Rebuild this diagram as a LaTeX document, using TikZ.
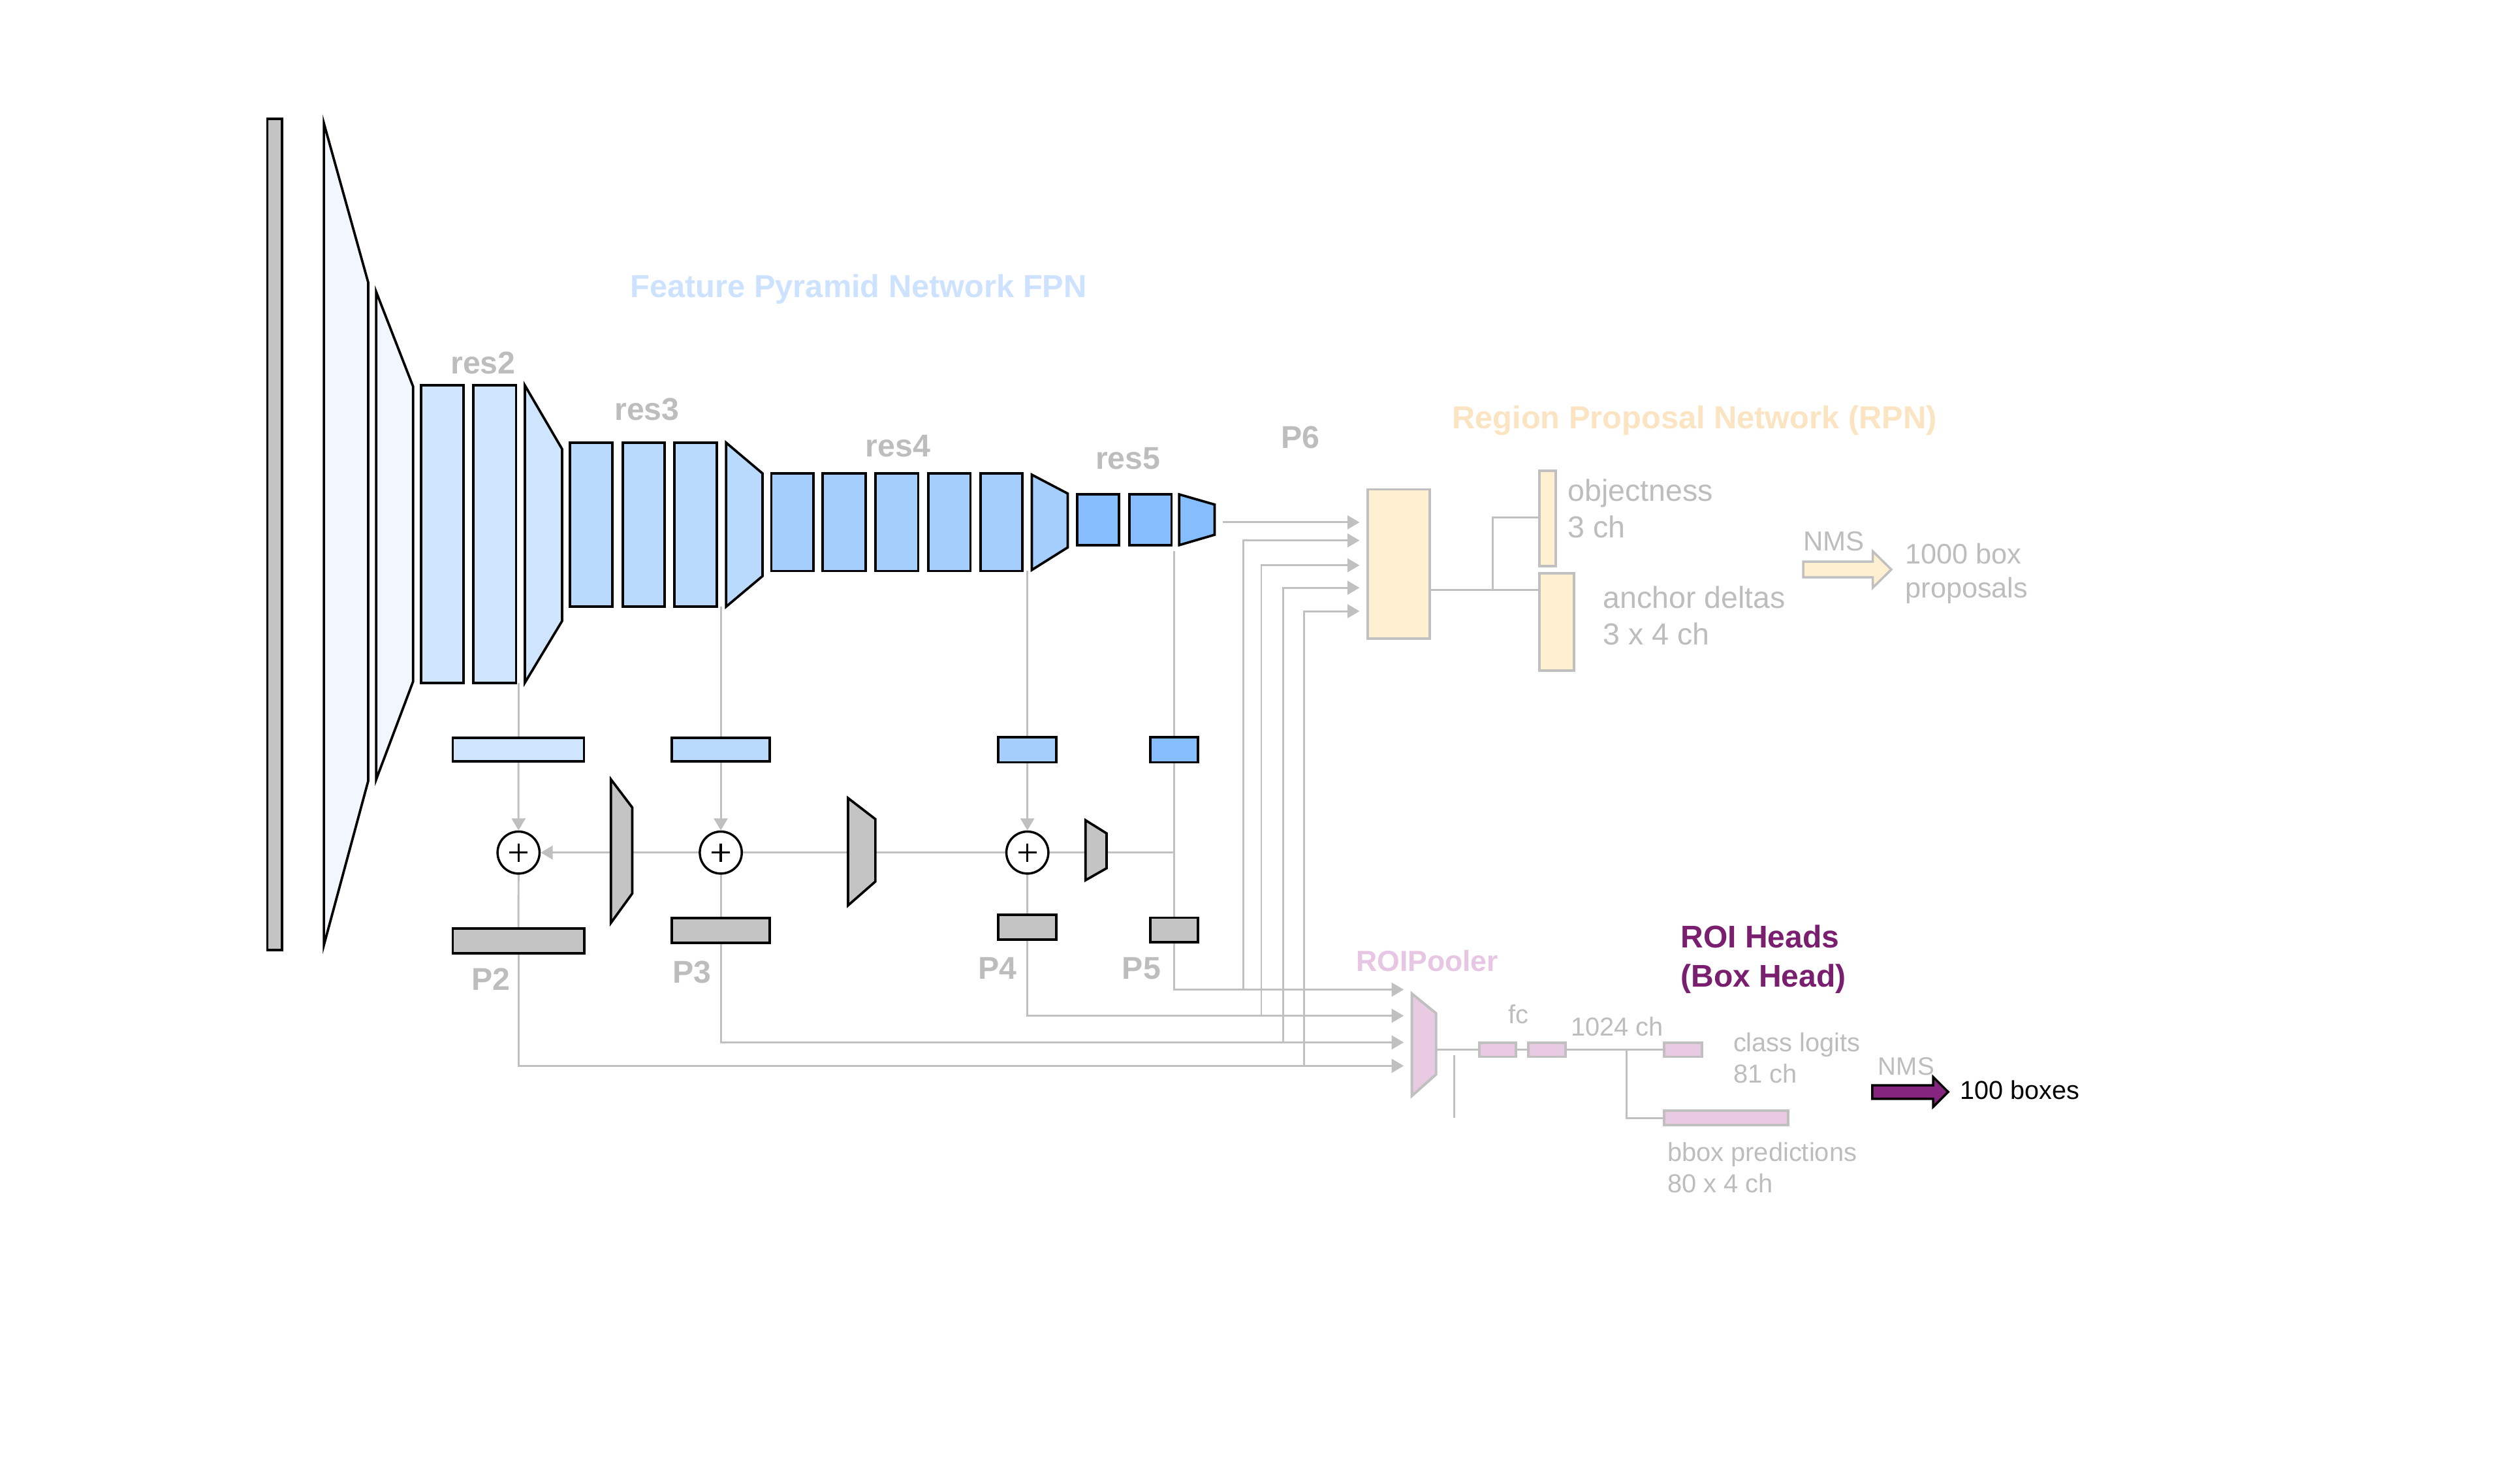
\documentclass[tikz,border=0pt]{standalone}
\usepackage{fontspec}
\setmainfont{Liberation Sans}
\usetikzlibrary{arrows.meta,backgrounds}
\definecolor{lgray}{HTML}{C0C0C0}
\definecolor{tgray}{HTML}{BDBDBD}
\definecolor{gfill}{HTML}{C4C4C4}
\definecolor{stemc}{HTML}{F2F7FF}
\definecolor{rtwo}{HTML}{CFE4FD}
\definecolor{rthree}{HTML}{B9DAFD}
\definecolor{rfour}{HTML}{A5CEFD}
\definecolor{rfive}{HTML}{86BDFC}
\definecolor{fpnc}{HTML}{CCE2FF}
\definecolor{rpnc}{HTML}{FBE4C2}
\definecolor{yfill}{HTML}{FEF0D0}
\definecolor{pfill}{HTML}{E8CBE3}
\definecolor{ptext}{HTML}{E6C6E2}
\definecolor{purp}{HTML}{7A1F6F}
\definecolor{purpf}{HTML}{862580}
\newcommand{\fsz}[1]{\fontsize{#1}{#1}\selectfont}
\newcommand{\mkbox}[6]{%
  \pgfmathsetmacro\mkcx{(#3+#5)/2}%
  \pgfmathsetmacro\mkcy{(#4+#6)/2}%
  \pgfmathsetmacro\mkw{#5-#3}%
  \pgfmathsetmacro\mkh{#6-#4}%
  \node[#1, minimum width=\mkw pt, minimum height=\mkh pt] (#2) at (\mkcx,\mkcy) {};}
\newcommand{\mktrap}[7]{\draw[#1] (#2,#3) -- (#5,#6) -- (#5,#7) -- (#2,#4) -- cycle;}
\tikzset{
  blk/.style={rectangle, draw=black, line width=1.5pt, inner sep=0pt, outer sep=0pt},
  gblk/.style={rectangle, draw=lgray, line width=1.6pt, inner sep=0pt, outer sep=0pt},
  tblk/.style={draw=black, line width=1.5pt},
  tgblk/.style={draw=lgray, line width=1.6pt},
  conn/.style={draw=lgray, line width=1.2pt},
  arr/.style={conn, -{Triangle[length=7.5pt,width=8.5pt]}},
  plusc/.style={circle, draw=black, fill=white, line width=1.4pt, minimum size=26pt, inner sep=0pt},
  pluss/.style={draw=black, line width=1.4pt},
  lbl/.style={anchor=base west, inner sep=0pt, outer sep=0pt},
  bold/.style={lbl, text=tgray, font=\fsz{19.5}\bfseries},
  reg/.style={lbl, text=tgray, font=\fsz{18.8}},
  regs/.style={lbl, text=tgray, font=\fsz{16.1}},
}
\begin{document}
\begin{tikzpicture}[x=1pt,y=-1pt]
\useasboundingbox (0,0) rectangle (1560,903.6);

% ---------------- backbone ----------------
\mkbox{blk,fill=gfill}{inp}{165.5}{73.5}{174.5}{588}
\mktrap{tblk,fill=stemc}{200.5}{76.3}{585}{227.9}{174.7}{483.5}
\mktrap{tblk,fill=stemc}{232.9}{180.7}{482.4}{255.7}{239.2}{421.9}
% res2
\mkbox{blk,fill=rtwo}{r2a}{260.8}{238.5}{287}{422.6}
\mkbox{blk,fill=rtwo}{r2b}{293}{238.5}{319.5}{422.6}
\mktrap{tblk,fill=rtwo}{324.9}{238.5}{422.6}{348}{278}{384.3}
% res3
\mkbox{blk,fill=rthree}{r3a}{352.7}{274}{379.1}{375.5}
\mkbox{blk,fill=rthree}{r3b}{385.6}{274}{411.5}{375.5}
\mkbox{blk,fill=rthree}{r3c}{417.6}{274}{443.8}{375.5}
\mktrap{tblk,fill=rthree}{449.5}{274}{375.5}{472}{293}{356.6}
% res4
\mkbox{blk,fill=rfour}{r4a}{477.5}{293}{503.5}{353.4}
\mkbox{blk,fill=rfour}{r4b}{509.3}{293}{535.8}{353.4}
\mkbox{blk,fill=rfour}{r4c}{542}{293}{568.4}{353.4}
\mkbox{blk,fill=rfour}{r4d}{574.7}{293}{600.7}{353.4}
\mkbox{blk,fill=rfour}{r4e}{607}{293}{633}{353.4}
\mktrap{tblk,fill=rfour}{638.7}{293.8}{352.8}{661}{305.5}{338.8}
% res5
\mkbox{blk,fill=rfive}{r5a}{666.8}{306}{692.6}{337.4}
\mkbox{blk,fill=rfive}{r5b}{699.2}{306}{725.2}{337.4}
\mktrap{tblk,fill=rfive}{730}{306}{337.4}{751.9}{312.3}{331}

% ---------------- FPN ----------------
\mkbox{blk,fill=rtwo}{lat1}{280.3}{456.7}{361.5}{471.3}
\mkbox{blk,fill=rthree}{lat2}{416}{456.7}{476.4}{471.3}
\mkbox{blk,fill=rfour}{lat3}{617.9}{456.4}{654}{471.8}
\mkbox{blk,fill=rfive}{lat4}{712}{456.4}{741.6}{471.8}

\node[plusc] (pl1) at (321,527.7) {};
\node[plusc] (pl2) at (446.2,527.7) {};
\node[plusc] (pl3) at (636,527.7) {};
\draw[pluss] (pl1.center) ++(-5.7,0) -- ++(11.4,0) (pl1.center) ++(0,-5.7) -- ++(0,11.4);
\draw[pluss] (pl2.center) ++(-5.7,0) -- ++(11.4,0) (pl2.center) ++(0,-5.7) -- ++(0,11.4);
\draw[pluss] (pl3.center) ++(-5.7,0) -- ++(11.4,0) (pl3.center) ++(0,-5.7) -- ++(0,11.4);

\mktrap{tblk,fill=gfill}{378.2}{482.4}{571.2}{391.4}{499.8}{553}
\mktrap{tblk,fill=gfill}{525}{494}{560.4}{541.9}{507}{545.6}
\mktrap{tblk,fill=gfill}{672}{507.7}{544.8}{685}{515.8}{537.4}

\mkbox{blk,fill=gfill}{p2}{280.3}{574.7}{361.6}{590}
\mkbox{blk,fill=gfill}{p3}{416}{568.3}{476.4}{583.7}
\mkbox{blk,fill=gfill}{p4}{617.9}{566.2}{654}{581.6}
\mkbox{blk,fill=gfill}{p5}{712}{568}{741.6}{583.2}

% ---------------- RPN ----------------
\mkbox{gblk,fill=yfill}{rpn}{846.6}{302.9}{885}{395.4}
\mkbox{gblk,fill=yfill}{obj}{953}{291.4}{963}{350.3}
\mkbox{gblk,fill=yfill}{anc}{953}{354.8}{974.5}{415}
\draw[draw=lgray, line width=1.4pt, fill=yfill]
  (1116.3,347.6) -- (1159.3,347.6) -- (1159.3,341.2) -- (1170.8,352.5)
  -- (1159.3,363.8) -- (1159.3,357.3) -- (1116.3,357.3) -- cycle;

% ---------------- ROI heads ----------------
\mktrap{tgblk,fill=pfill}{874}{615}{678.3}{889}{627.2}{665}
\mkbox{gblk,fill=pfill}{fc1}{915.8}{645.6}{938.4}{654.1}
\mkbox{gblk,fill=pfill}{fc2}{946.2}{645.6}{969.3}{654.1}
\mkbox{gblk,fill=pfill}{cls}{1030.3}{645.6}{1053.5}{654.1}
\mkbox{gblk,fill=pfill}{bbx}{1030.3}{687.6}{1107}{696.2}
\draw[draw=black, line width=1.4pt, fill=purpf]
  (1159,671.7) -- (1196.7,671.7) -- (1196.7,666.6) -- (1206,675.85)
  -- (1196.7,685.1) -- (1196.7,680.1) -- (1159,680.1) -- cycle;

% ---------------- coordinates ----------------
\coordinate (c5top) at (726.8,341.2);
\coordinate (r5out) at (757,323.3);
\coordinate (rin1) at (841.6,323.3);
\coordinate (rin2) at (841.6,334.5);
\coordinate (rin3) at (841.6,349.9);
\coordinate (rin4) at (841.6,363.8);
\coordinate (rin5) at (841.6,378.3);
\coordinate (roi5) at (869,612.5);
\coordinate (roi4) at (869,628.7);
\coordinate (roi3) at (869,645.2);
\coordinate (roi2) at (869,659.7);
\coordinate (f5) at (769.5,612.5);
\coordinate (f4) at (780.8,628.7);
\coordinate (f3) at (794.5,645.2);
\coordinate (f2) at (807.4,659.7);
\coordinate (j5) at (726.8,527.7);
\coordinate (rpnout) at (885,365.1);
\coordinate (brA) at (924,365.1);
\coordinate (objin) at (953,320.4);
\coordinate (roiout) at (889,649.85);
\coordinate (brB) at (1007,649.85);
\coordinate (st1) at (900.4,653.2);
\coordinate (st2) at (900.4,691.9);

% ---------------- connectors ----------------
\begin{pgfonlayer}{background}
\fill[white] (0,0) rectangle (1560,903.6);
% column P2
\draw[conn] (lat1.north |- r2b.south) -- (lat1.north);
\draw[arr] (lat1.south) -- (pl1.north);
\draw[conn] (pl1.south) -- (p2.north);
\draw[arr] (p2.south) |- (roi2);
% column P3
\draw[conn] (lat2.north |- r3c.south) -- (lat2.north);
\draw[arr] (lat2.south) -- (pl2.north);
\draw[conn] (pl2.south) -- (p3.north);
\draw[arr] (p3.south) |- (roi3);
% column P4
\draw[conn] (lat3.north |- r4e.south) -- (lat3.north);
\draw[arr] (lat3.south) -- (pl3.north);
\draw[conn] (pl3.south) -- (p4.north);
\draw[arr] (p4.south) |- (roi4);
% column P5
\draw[conn] (c5top) -- (lat4.north);
\draw[conn] (lat4.south) -- (p5.north);
\draw[arr] (p5.south) |- (roi5);
% top-down path
\draw[conn] (j5) -- (pl3.east);
\draw[conn] (pl3.west) -- (pl2.east);
\draw[arr] (pl2.west) -- (pl1.east);
% RPN inputs
\draw[arr] (r5out) -- (rin1);
\draw[arr] (f5) |- (rin2);
\draw[arr] (f4) |- (rin3);
\draw[arr] (f3) |- (rin4);
\draw[arr] (f2) |- (rin5);
% RPN heads
\draw[conn] (rpnout) -- (rpnout -| anc.west);
\draw[conn] (brA) |- (objin);
% ROI heads
\draw[conn] (roiout) -- (fc1.west);
\draw[conn] (fc1.east) -- (fc2.west);
\draw[conn] (fc2.east) -- (cls.west);
\draw[conn] (brB) |- (bbx.west);
\draw[conn] (st1) -- (st2);
\end{pgfonlayer}

% ---------------- labels ----------------
\node[lbl, text=fpnc, font=\fsz{19.7}\bfseries] (tfpn) at (390.3,184) {Feature Pyramid Network FPN};
\node[lbl, text=rpnc, font=\fsz{19.7}\bfseries] (trpn) at (899,265.2) {Region Proposal Network (RPN)};
\node[bold] (tr2) at (279,231.2) {res2};
\node[bold] (tr3) at (380.4,260) {res3};
\node[bold] (tr4) at (535.8,282.7) {res4};
\node[bold] (tr5) at (678.2,290.5) {res5};
\node[bold] (tp6) at (793,277.6) {P6};
\node[bold] (tp2) at (292,613) {P2};
\node[bold] (tp3) at (416.5,608.3) {P3};
\node[bold] (tp4) at (605.5,606) {P4};
\node[bold] (tp5) at (694.7,606) {P5};
\node[reg] (tobj) at (970.5,310.3) {objectness};
\node[reg] (tobj2) at (970.5,332.8) {3 ch};
\node[reg] (tanc) at (992.3,376.6) {anchor deltas};
\node[reg] (tanc2) at (992.3,399.1) {3 x 4 ch};
\node[lbl, text=tgray, font=\fsz{17}] (tnms1) at (1116.3,340.9) {NMS};
\node[lbl, text=tgray, font=\fsz{17.5}] (tprop1) at (1179.5,348.9) {1000 box};
\node[lbl, text=tgray, font=\fsz{17.5}] (tprop2) at (1179.5,369.9) {proposals};
\node[lbl, text=ptext, font=\fsz{18}\bfseries] (troi) at (839.5,601.2) {ROIPooler};
\node[lbl, text=purp, font=\fsz{19.4}\bfseries] (theads1) at (1040.4,586.5) {ROI Heads};
\node[lbl, text=purp, font=\fsz{19.4}\bfseries] (theads2) at (1040.4,610.7) {(Box Head)};
\node[regs] (tfc) at (933.7,633.3) {fc};
\node[regs] (t1024) at (972.5,641.3) {1024 ch};
\node[regs] (tcls) at (1073,650.8) {class logits};
\node[regs] (tcls2) at (1073,670.2) {81 ch};
\node[regs] (tbb) at (1032.2,718.7) {bbox predictions};
\node[regs] (tbb2) at (1032.2,738.3) {80 x 4 ch};
\node[lbl, text=tgray, font=\fsz{15.6}] (tnms2) at (1162.7,665.6) {NMS};
\node[lbl, text=black, font=\fsz{16}] (tout) at (1213.5,680.3) {100 boxes};
\end{tikzpicture}
\end{document}
